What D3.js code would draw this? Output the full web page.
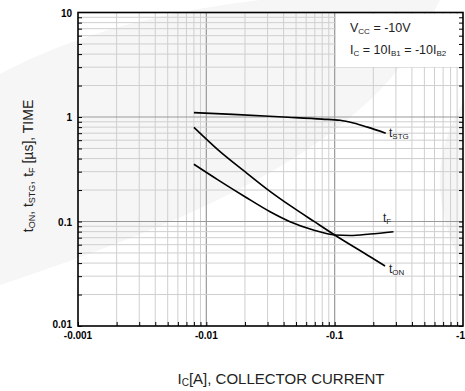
<!DOCTYPE html>
<html>
<head>
<meta charset="utf-8">
<script src="https://cdn.jsdelivr.net/npm/d3@7"></script>
<style>
  body { margin: 0; background: #fff; }
  svg { display: block; font-family: "Liberation Sans", Arial, sans-serif; }
</style>
</head>
<body>
<svg width="465" height="391"></svg>
<script>
// collector current magnitude [A] (axis is negative, shown with "-")
const xTicks = [0.001, 0.01, 0.1, 1];
const xTickLabels = ["-0.001", "-0.01", "-0.1", "-1"];
const yTicks = [0.01, 0.1, 1, 10];
const yTickLabels = ["0.01", "0.1", "1", "10"];

const tStgIc = [0.008, 0.0161, 0.0398, 0.08, 0.11, 0.14, 0.18, 0.25];
const tStgVal = [1.10, 1.06, 1.00, 0.955, 0.93, 0.875, 0.80, 0.70];

const tOnIc = [0.008, 0.0124, 0.02, 0.0304, 0.0463, 0.07, 0.1, 0.189, 0.247];
const tOnVal = [0.797, 0.483, 0.300, 0.200, 0.1386, 0.099, 0.0743, 0.046, 0.0375];

const tFIc = [0.008, 0.0124, 0.02, 0.0314, 0.0449, 0.0682, 0.1, 0.132, 0.189, 0.287];
const tFVal = [0.353, 0.249, 0.1727, 0.124, 0.0996, 0.083, 0.0743, 0.0735, 0.0759, 0.0799];

const svg = d3.select("svg");
const pl = 78, pr = 463, pt = 12.5, pb = 326;

const x = d3.scaleLog().domain([0.001, 1]).range([pl, pr]);
const y = d3.scaleLog().domain([0.01, 10]).range([pb, pt]);

// faint watermark in the background
svg.append("path")
  .attr("d", "M0,74 C60,42 140,14 260,0 L440,0 C420,40 400,70 378,92 C300,170 180,225 0,285 Z")
  .attr("fill", "#f6f6f6");
svg.append("path")
  .attr("d", "M465,100 C448,125 438,160 440,190 C443,222 452,248 465,268 Z")
  .attr("fill", "#f6f6f6");

// minor/decade positions
const xMinor = [], yMinor = [];
[0.001, 0.01, 0.1].forEach(d => { for (let k = 1; k <= 9; k++) xMinor.push(d * k); });
[0.01, 0.1, 1].forEach(d => { for (let k = 1; k <= 9; k++) yMinor.push(d * k); });
const isDecade = v => Math.abs(Math.log10(v) - Math.round(Math.log10(v))) < 1e-6;

const grid = svg.append("g");
grid.selectAll("line.vx")
  .data(xMinor.slice(1))
  .enter().append("line")
  .attr("x1", d => x(d)).attr("x2", d => x(d))
  .attr("y1", pt).attr("y2", pb)
  .attr("stroke", d => isDecade(d) ? "#999" : "#cfcfcf")
  .attr("stroke-width", d => isDecade(d) ? 1.2 : 1);
grid.selectAll("line.hy")
  .data(yMinor.slice(1))
  .enter().append("line")
  .attr("y1", d => y(d)).attr("y2", d => y(d))
  .attr("x1", pl).attr("x2", pr)
  .attr("stroke", d => isDecade(d) ? "#999" : "#cfcfcf")
  .attr("stroke-width", d => isDecade(d) ? 1.2 : 1);

// legend box
svg.append("rect")
  .attr("x", 336).attr("y", 14).attr("width", 126).attr("height", 53)
  .attr("fill", "#fff");

const leg = svg.append("text").attr("x", 350).attr("y", 32).attr("font-size", 12.5).attr("fill", "#222");
leg.append("tspan").text("V");
leg.append("tspan").text("CC").attr("font-size", 8).attr("dy", 2);
leg.append("tspan").text(" = -10V").attr("dy", -2);
const leg2 = svg.append("text").attr("x", 350).attr("y", 54).attr("font-size", 12.5).attr("fill", "#222");
leg2.append("tspan").text("I");
leg2.append("tspan").text("C").attr("font-size", 8).attr("dy", 2);
leg2.append("tspan").text(" = 10I").attr("dy", -2);
leg2.append("tspan").text("B1").attr("font-size", 8).attr("dy", 2);
leg2.append("tspan").text(" = -10I").attr("dy", -2);
leg2.append("tspan").text("B2").attr("font-size", 8).attr("dy", 2);

// curves
const line = d3.line()
  .x(d => x(d[0]))
  .y(d => y(d[1]))
  .curve(d3.curveMonotoneX);

const series = [
  d3.zip(tStgIc, tStgVal),
  d3.zip(tOnIc, tOnVal),
  d3.zip(tFIc, tFVal)
];
svg.append("g").selectAll("path")
  .data(series)
  .enter().append("path")
  .attr("d", line)
  .attr("fill", "none")
  .attr("stroke", "#000")
  .attr("stroke-width", 1.6);

// curve labels
function subLabel(px, py, main, sub) {
  const t = svg.append("text").attr("x", px).attr("y", py).attr("font-size", 12).attr("fill", "#222");
  t.append("tspan").text(main);
  t.append("tspan").text(sub).attr("font-size", 8).attr("dy", 2);
}
subLabel(389, 137, "t", "STG");
subLabel(383, 222, "t", "F");
subLabel(389, 273, "t", "ON");

// inward ticks
svg.append("g")
  .attr("transform", `translate(${pl},0)`)
  .call(d3.axisRight(y).tickValues(yMinor).tickSize(4).tickFormat(""))
  .call(g => g.select(".domain").remove());
svg.append("g")
  .attr("transform", `translate(${pr},0)`)
  .call(d3.axisLeft(y).tickValues(yMinor).tickSize(4).tickFormat(""))
  .call(g => g.select(".domain").remove());
svg.append("g")
  .attr("transform", `translate(0,${pb})`)
  .call(d3.axisTop(x).tickValues(xMinor).tickSize(4).tickFormat(""))
  .call(g => g.select(".domain").remove());

// frame
svg.append("rect")
  .attr("x", pl).attr("y", pt)
  .attr("width", pr - pl).attr("height", pb - pt)
  .attr("fill", "none").attr("stroke", "#000").attr("stroke-width", 1.6);

// tick labels (last one pushed in so it is not cut by the edge)
svg.append("g").selectAll("text")
  .data(xTicks)
  .enter().append("text")
  .attr("x", d => d === 1 ? 465 : x(d))
  .attr("y", pb + 13)
  .attr("text-anchor", d => d === 1 ? "end" : "middle")
  .attr("font-size", 10).attr("font-weight", "bold")
  .text((d, i) => xTickLabels[i]);
svg.append("g").selectAll("text")
  .data(yTicks)
  .enter().append("text")
  .attr("x", pl - 6)
  .attr("y", d => y(d) + (d === 0.01 ? 2 : 4))
  .attr("text-anchor", "end")
  .attr("font-size", 10).attr("font-weight", "bold")
  .text((d, i) => yTickLabels[i]);

// axis titles
const xt = svg.append("text").attr("x", 281).attr("y", 384).attr("text-anchor", "middle")
  .attr("font-size", 15).attr("fill", "#222");
xt.append("tspan").text("I");
xt.append("tspan").text("C").attr("font-size", 10).attr("dy", 2);
xt.append("tspan").text("[A], COLLECTOR CURRENT").attr("dy", -2);

const yt = svg.append("text").attr("transform", "translate(33,166) rotate(-90)")
  .attr("text-anchor", "middle").attr("font-size", 14).attr("fill", "#222");
yt.append("tspan").text("t");
yt.append("tspan").text("ON").attr("font-size", 9).attr("dy", 2);
yt.append("tspan").text(", t").attr("dy", -2);
yt.append("tspan").text("STG").attr("font-size", 9).attr("dy", 2);
yt.append("tspan").text(", t").attr("dy", -2);
yt.append("tspan").text("F").attr("font-size", 9).attr("dy", 2);
yt.append("tspan").text(" [µs], TIME").attr("dy", -2);
</script>
</body>
</html>
